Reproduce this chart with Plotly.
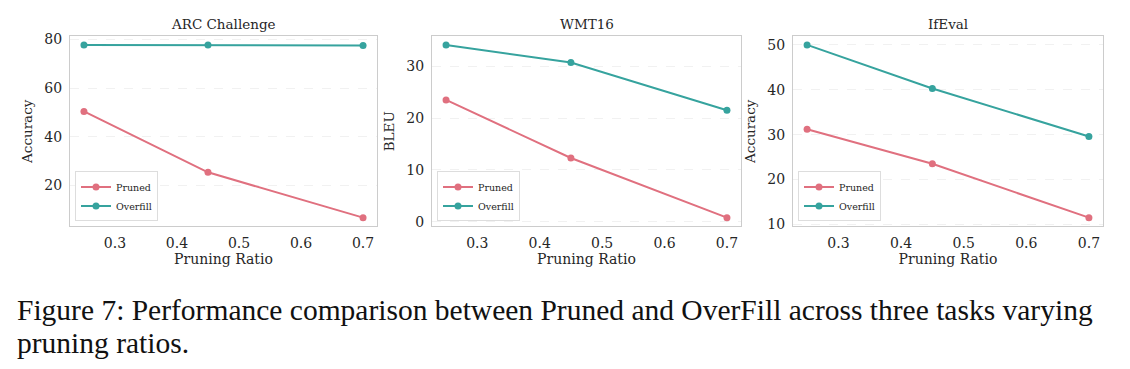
import plotly.graph_objects as go

ratios = [0.25, 0.45, 0.7]
tasks = ["ARC Challenge", "WMT16", "IfEval"]
ylabels = ["Accuracy", "BLEU", "Accuracy"]
pruned = {
    "ARC Challenge": [50.4, 25.3, 6.6],
    "WMT16": [23.5, 12.3, 0.8],
    "IfEval": [31.2, 23.5, 11.5],
}
overfill = {
    "ARC Challenge": [77.8, 77.8, 77.6],
    "WMT16": [34.1, 30.7, 21.5],
    "IfEval": [50.0, 40.3, 29.6],
}
yticks = {
    "ARC Challenge": [20, 40, 60, 80],
    "WMT16": [0, 10, 20, 30],
    "IfEval": [10, 20, 30, 40, 50],
}
xticks = [0.3, 0.4, 0.5, 0.6, 0.7]

PINK = "#e0707f"
TEAL = "#36a39e"
OFF = 8  # page body margin
W, H = 1130 - OFF, 369 - OFF
SERIF = "DejaVu Serif"


def px(x):
    return (x - OFF) / W


def py(y):
    return 1 - (y - OFF) / H


xdoms = [(70, 377), (432, 741), (793, 1103)]
ytop, ybot = 32, 228

fig = go.Figure()
layout = dict(
    width=W, height=H, margin=dict(l=0, r=0, t=0, b=0),
    plot_bgcolor="white", paper_bgcolor="white",
    font=dict(family=SERIF, color="#262626"),
    annotations=[],
)

for i, t in enumerate(tasks):
    n = "" if i == 0 else str(i + 1)
    xa, ya = "x" + n, "y" + n
    lg = "legend" + n
    for name, vals, col in [("Pruned", pruned[t], PINK), ("Overfill", overfill[t], TEAL)]:
        fig.add_trace(go.Scatter(
            x=ratios, y=vals, name=name, mode="lines+markers",
            line=dict(color=col, width=2), marker=dict(color=col, size=7),
            xaxis=xa, yaxis=ya, legend=lg,
        ))
    allv = pruned[t] + overfill[t]
    lo, hi = min(allv), max(allv)
    pad = (hi - lo) * 0.05
    x0, x1 = xdoms[i]
    layout["xaxis" + n] = dict(
        domain=[px(x0), px(x1)], range=[0.2275, 0.7225], anchor=ya,
        tickvals=xticks, ticktext=[str(v) for v in xticks],
        showgrid=False, zeroline=False, showline=True, linecolor="#cccccc", linewidth=1,
        mirror=True, ticks="", ticklabelstandoff=4,
        tickfont=dict(size=14, family=SERIF, color="#262626"),
        title=dict(text="Pruning Ratio", font=dict(size=14, family=SERIF), standoff=4),
    )
    layout["yaxis" + n] = dict(
        domain=[py(ybot), py(ytop)], range=[lo - pad, hi + pad], anchor=xa,
        tickvals=yticks[t], showgrid=True, gridcolor="#f1f1f1", griddash="dash", gridwidth=0.8,
        zeroline=False, showline=True, linecolor="#cccccc", linewidth=1, mirror=True,
        ticks="", ticklabelstandoff=4,
        tickfont=dict(size=14, family=SERIF, color="#262626"),
        title=dict(text=ylabels[i], font=dict(size=13.5, family=SERIF), standoff=8),
    )
    layout[lg] = dict(
        x=px(x0 + 5), y=py(223), xanchor="left", yanchor="bottom",
        bgcolor="white", bordercolor="#dddddd", borderwidth=1,
        font=dict(size=9.5, family=SERIF, color="#262626"),
        itemwidth=30, tracegroupgap=0,
    )
    layout["annotations"].append(dict(
        text=t, x=px((x0 + x1) / 2), y=py(19), xref="paper", yref="paper",
        xanchor="center", yanchor="middle", showarrow=False,
        font=dict(size=13.5, family=SERIF, color="#262626"),
    ))

layout["annotations"].append(dict(
    text="Figure 7: Performance comparison between Pruned and OverFill across three tasks varying",
    x=px(15), y=py(314), xref="paper", yref="paper", xanchor="left", yanchor="middle",
    showarrow=False, font=dict(size=29.5, family="Liberation Serif", color="#111111"),
))
layout["annotations"].append(dict(
    text="pruning ratios.",
    x=px(15), y=py(348), xref="paper", yref="paper", xanchor="left", yanchor="middle",
    showarrow=False, font=dict(size=29.5, family="Liberation Serif", color="#111111"),
))

fig.update_layout(**layout)
fig.write_html("out.html")
